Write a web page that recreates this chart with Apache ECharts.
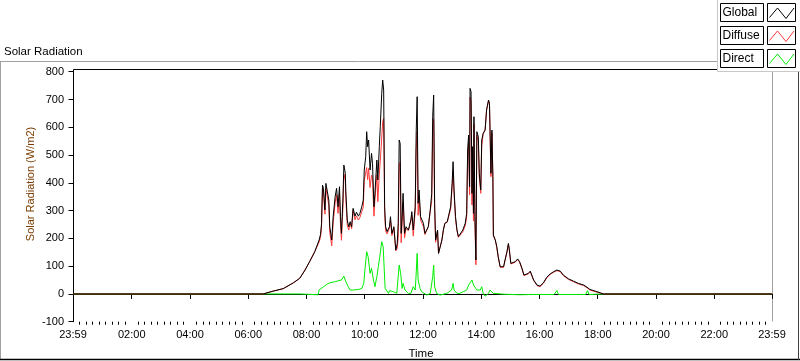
<!DOCTYPE html>
<html><head><meta charset="utf-8">
<script src="https://cdn.jsdelivr.net/npm/echarts@6/dist/echarts.min.js"></script>
<style>html,body{margin:0;padding:0;background:#fff}#c{width:800px;height:361px}</style>
</head><body><div id="c"></div>
<script>
// time in minutes since midnight (-1 = 23:59 of previous day)
const timeMin = [
  -1, 391, 411, 432, 453, 466, 477, 487, 497, 506,
  509, 511, 513, 515, 518, 520, 523, 526, 528, 532,
  535, 539, 542, 545, 548, 550, 552, 555, 557, 560,
  561, 564, 567, 570, 573, 576, 580, 583, 587, 590,
  594, 597, 599, 602, 604, 606, 608, 611, 614, 616,
  619, 621, 625, 627, 630, 632, 635, 637, 639, 641,
  643, 646, 651, 653, 656, 660, 664, 667, 669, 671,
  673, 675, 677, 679, 682, 685, 690, 695, 697, 700,
  704, 706, 708, 710, 712, 715, 718, 721, 724, 728,
  731, 735, 738, 740, 742, 744, 746, 750, 752, 755,
  759, 762, 765, 770, 774, 777, 780, 782, 784, 787,
  790, 793, 796, 802, 807, 810, 812, 814, 816, 817,
  819, 821, 822, 824, 825, 827, 829, 831, 834, 836,
  839, 841, 844, 848, 851, 855, 857, 858, 860, 862,
  864, 865, 869, 872, 875, 879, 882, 886, 889, 893,
  896, 898, 901, 905, 910, 915, 919, 924, 928, 932,
  937, 941, 948, 955, 961, 968, 975, 982, 989, 996,
  1003, 1009, 1020, 1030, 1040, 1051, 1058, 1064, 1075, 1085,
  1092, 1439
];
const globalVals = [
  0, 0, 10, 19, 40, 56, 86, 118, 152, 194,
  215, 254, 392, 380, 302, 398, 404, 338, 242, 194,
  278, 350, 380, 314, 386, 278, 218, 338, 464, 434,
  370, 266, 242, 260, 242, 308, 280, 294, 280, 290,
  314, 338, 446, 494, 584, 530, 554, 446, 506, 470,
  314, 362, 482, 410, 530, 602, 722, 770, 734, 314,
  242, 224, 242, 278, 218, 242, 158, 182, 254, 554,
  542, 218, 278, 362, 218, 242, 230, 266, 296, 230,
  314, 584, 710, 326, 374, 278, 266, 254, 218, 218,
  242, 302, 362, 638, 716, 326, 194, 230, 146, 140,
  194, 230, 254, 260, 266, 314, 398, 476, 374, 278,
  230, 206, 212, 230, 254, 290, 518, 572, 386, 740,
  728, 362, 530, 290, 638, 278, 122, 584, 566, 434,
  374, 554, 578, 590, 662, 698, 686, 602, 434, 590,
  422, 212, 194, 170, 134, 98, 92, 98, 122, 152,
  182, 158, 110, 104, 116, 126, 116, 92, 68, 62,
  74, 82, 50, 32, 28, 40, 60, 72, 80, 86,
  82, 68, 54, 46, 38, 32, 24, 16, 10, 4,
  0, 0
];
const diffuseVals = [
  0, 0, 10, 19, 40, 56, 86, 118, 152, 187,
  205, 242, 379, 366, 287, 381, 386, 319, 222, 173,
  257, 328, 357, 290, 362, 253, 193, 310, 432, 408,
  348, 248, 230, 253, 235, 301, 267, 281, 266, 275,
  297, 312, 408, 413, 455, 411, 452, 383, 428, 415,
  280, 340, 429, 332, 432, 479, 562, 619, 632, 293,
  227, 216, 238, 266, 210, 237, 155, 165, 203, 466,
  474, 184, 257, 330, 201, 235, 228, 264, 283, 208,
  302, 521, 586, 283, 349, 266, 259, 242, 214, 218,
  242, 300, 336, 585, 628, 304, 186, 228, 146, 140,
  194, 230, 254, 258, 261, 306, 386, 444, 362, 271,
  228, 204, 210, 224, 245, 278, 497, 545, 356, 708,
  690, 320, 492, 263, 612, 256, 105, 572, 549, 420,
  362, 532, 576, 590, 662, 696, 680, 590, 422, 580,
  417, 210, 192, 168, 132, 96, 90, 96, 120, 150,
  180, 156, 108, 102, 114, 124, 114, 90, 66, 60,
  72, 80, 48, 30, 26, 38, 58, 70, 78, 84,
  80, 66, 52, 44, 36, 30, 22, 14, 8, 3,
  0, 0
];
const directTime = [
  -1, 466, 468, 504, 506, 515, 522, 528, 539, 545,
  552, 557, 561, 566, 570, 576, 587, 594, 598, 601,
  604, 607, 611, 614, 618, 621, 625, 628, 631, 635,
  638, 642, 645, 649, 651, 653, 659, 666, 671, 674,
  677, 679, 683, 690, 695, 700, 704, 706, 708, 710,
  714, 717, 721, 728, 735, 740, 742, 744, 748, 755,
  769, 779, 782, 784, 790, 796, 803, 810, 814, 817,
  821, 824, 827, 831, 834, 838, 841, 844, 848, 855,
  858, 862, 865, 886, 920, 941, 990, 996, 999, 1040,
  1044, 1047, 1055, 1059, 1062, 1092, 1439
];
const directVals = [
  0, 0, -3, -3, 14, 26, 35, 40, 44, 47,
  50, 64, 44, 26, 14, 14, 16, 20, 38, 98,
  152, 134, 74, 92, 50, 26, 62, 98, 134, 188,
  170, 20, 14, 2, 12, 14, 8, 2, 104, 74,
  20, 38, 14, 2, 2, 26, 14, 74, 146, 50,
  20, 8, 14, -4, 2, 62, 104, 26, 2, -4,
  2, 14, 38, 14, 2, 2, 8, 14, 32, 38,
  50, 32, 26, 14, 20, 14, 26, 2, -8, 2,
  14, 14, 2, -1, -3, -2, -2, 12, -2, -2,
  4, -2, -2, 12, -2, 0, 0
];
const seriesNames = ['Global', 'Diffuse', 'Direct'];
const seriesColors = ['#000000', '#ff3a3a', '#00ee00'];
const xMajorTicks = [-1, 120, 240, 360, 480, 600, 720, 840, 960, 1080, 1200, 1320, 1439];
const yMin = -100, yMax = 800, yStep = 100;
const chartTitle = 'Solar Radiation';
const xName = 'Time';
const yName = 'Solar Radiation (W/m2)';

const FONT = '"Liberation Sans", Arial, sans-serif';
const pad = n => (n < 10 ? '0' : '') + n;
function fmtTime(v) {
  if (v < 0 || v > 1438) return '23:59';
  return pad(Math.round(v / 60)) + ':00';
}
// minor ticks: 9 subdivisions per major interval
const xMinorTicks = [];
for (let i = 0; i < xMajorTicks.length - 1; i++) {
  const a = xMajorTicks[i], b = xMajorTicks[i + 1];
  for (let k = 1; k < 9; k++) xMinorTicks.push(a + (b - a) * k / 9);
}

const chart = echarts.init(document.getElementById('c'), null, {renderer: 'canvas'});

const legendG = [];
seriesNames.forEach((nm, i) => {
  const y0 = 3.5 + i * 23;
  legendG.push({type: 'rect', shape: {x: 720.5, y: y0, width: 43, height: 18},
    style: {fill: '#fff', stroke: '#000', lineWidth: 1}, z: 101});
  legendG.push({type: 'text', x: 722.5, y: y0 + 9.5,
    style: {text: nm, fill: '#000', font: '12px ' + FONT, verticalAlign: 'middle', align: 'left'}, z: 102});
  legendG.push({type: 'rect', shape: {x: 767.5, y: y0, width: 28, height: 18},
    style: {fill: '#fff', stroke: '#000', lineWidth: 1}, z: 101});
  legendG.push({type: 'polyline', shape: {points: [[769.5, y0 + 14], [777.5, y0 + 4.5], [786, y0 + 15], [794, y0 + 4.5]]},
    style: {stroke: seriesColors[i], lineWidth: 1, fill: null}, z: 102});
});

const option = {
  backgroundColor: '#ffffff',
  animation: false,
  grid: {left: 73, right: 28, top: 71.7, bottom: 39.3, containLabel: false},
  xAxis: [{
    type: 'value', min: -1, max: 1439,
    axisLine: {show: true, lineStyle: {color: '#000', width: 1}},
    axisTick: {show: true, length: 5, lineStyle: {color: '#000'}, customValues: xMajorTicks},
    axisLabel: {show: true, color: '#000', fontSize: 11, fontFamily: FONT, margin: 8,
      customValues: xMajorTicks, formatter: fmtTime, showMinLabel: true, showMaxLabel: true},
    splitLine: {show: false}
  }, {
    type: 'value', min: -1, max: 1439, position: 'bottom', gridIndex: 0,
    axisLine: {show: false},
    axisTick: {show: true, length: 3, lineStyle: {color: '#000'}, customValues: xMinorTicks},
    axisLabel: {show: false},
    splitLine: {show: false}
  }],
  yAxis: {
    type: 'value', min: yMin, max: yMax, interval: yStep,
    axisLine: {show: true, lineStyle: {color: '#000', width: 1}},
    axisTick: {show: true, length: 5, lineStyle: {color: '#000'}},
    axisLabel: {color: '#000', fontSize: 11, fontFamily: FONT, margin: 9},
    splitLine: {show: false}
  },
  series: [
    {name: seriesNames[2], type: 'line', showSymbol: false, symbol: 'none',
      data: directTime.map((t, i) => [t, directVals[i]]),
      lineStyle: {color: seriesColors[2], width: 1}, itemStyle: {color: seriesColors[2]}, z: 2},
    {name: seriesNames[1], type: 'line', showSymbol: false, symbol: 'none',
      data: timeMin.map((t, i) => [t, diffuseVals[i]]),
      lineStyle: {color: seriesColors[1], width: 1}, itemStyle: {color: seriesColors[1]}, z: 3},
    {name: seriesNames[0], type: 'line', showSymbol: false, symbol: 'none',
      data: timeMin.map((t, i) => [t, globalVals[i]]),
      lineStyle: {color: seriesColors[0], width: 1}, itemStyle: {color: seriesColors[0]}, z: 4}
  ],
  graphic: [
    {type: 'line', shape: {x1: 0, y1: 61.5, x2: 717, y2: 61.5}, style: {stroke: '#a0a0a0', lineWidth: 1}, silent: true},
    {type: 'line', shape: {x1: 0.5, y1: 61.5, x2: 0.5, y2: 360}, style: {stroke: '#a0a0a0', lineWidth: 1}, silent: true},
    {type: 'line', shape: {x1: 0, y1: 359.5, x2: 800, y2: 359.5}, style: {stroke: '#000', lineWidth: 1.6}, silent: true},
    {type: 'line', shape: {x1: 798.5, y1: 70, x2: 798.5, y2: 360}, style: {stroke: '#404040', lineWidth: 1}, silent: true},
    {type: 'line', shape: {x1: 73.5, y1: 69.5, x2: 772.5, y2: 69.5}, style: {stroke: '#000', lineWidth: 1}, silent: true},
    {type: 'line', shape: {x1: 73.5, y1: 69.5, x2: 73.5, y2: 72.5}, style: {stroke: '#000', lineWidth: 1}, silent: true},
    {type: 'line', shape: {x1: 772.5, y1: 69.5, x2: 772.5, y2: 321.5}, style: {stroke: '#a0a0a0', lineWidth: 1}, silent: true},
    {type: 'text', x: 4, y: 51.5, style: {text: chartTitle, fill: '#000', font: '11.5px ' + FONT, verticalAlign: 'middle', align: 'left'}},
    {type: 'text', x: 31, y: 184, rotation: Math.PI / 2,
      style: {text: yName, fill: '#7a3c00', font: '11px ' + FONT, verticalAlign: 'middle', align: 'center'}},
    {type: 'text', x: 421, y: 353.5, style: {text: xName, fill: '#000', font: '11.5px ' + FONT, verticalAlign: 'middle', align: 'center'}},
    {type: 'rect', shape: {x: 717.5, y: -1, width: 84, height: 72.5}, style: {fill: '#fff', stroke: '#c8c8c8', lineWidth: 1}, z: 100}
  ].concat(legendG)
};
chart.setOption(option);
</script>
</body></html>
